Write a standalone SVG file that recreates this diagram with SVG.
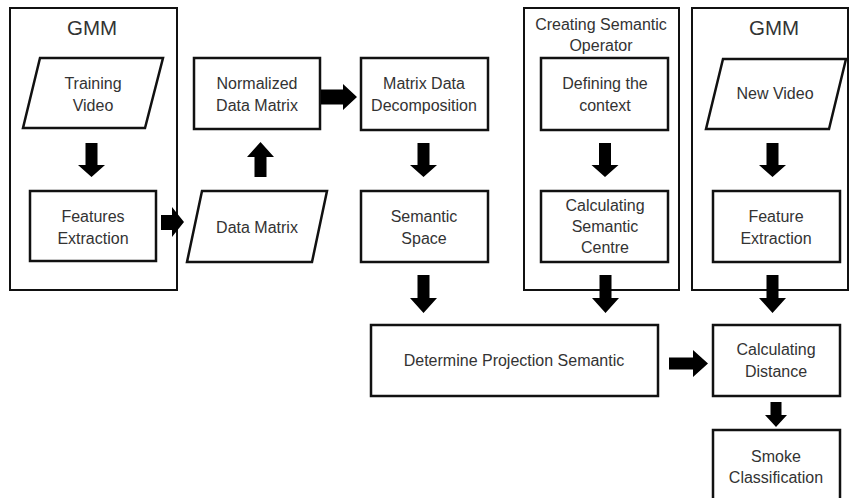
<svg xmlns="http://www.w3.org/2000/svg" width="849" height="498" viewBox="0 0 849 498">
<style>
.box{fill:#fff;stroke:#111;stroke-width:2.5}
.cont{fill:none;stroke:#111;stroke-width:2}
.t{font-family:"Liberation Sans",Arial,sans-serif;font-size:16px;fill:#333;text-anchor:middle}
.h{font-family:"Liberation Sans",Arial,sans-serif;font-size:20.5px;fill:#333;text-anchor:middle}
.arr{fill:#000}
</style>
<defs>
<path id="dn" d="M-6,0 H6 V22 H13.5 L0,34 L-13.5,22 H-6 Z"/>
<path id="dn2" d="M-6,0 H6 V23 H13.5 L0,38 L-13.5,23 H-6 Z"/>
</defs>
<rect width="849" height="498" fill="#fff"/>
<g id="gmm-left">
<rect class="cont" x="10" y="8" width="167" height="282"/>
<text class="h" x="92" y="35">GMM</text>
</g>
<g id="creating-semantic-operator">
<rect class="cont" x="524" y="8" width="155" height="282"/>
<text class="t" x="601" y="30">Creating Semantic</text>
<text class="t" x="601" y="51">Operator</text>
</g>
<g id="gmm-right">
<rect class="cont" x="692" y="8" width="156" height="282"/>
<text class="h" x="774" y="35">GMM</text>
</g>
<g id="training-video">
<polygon class="box" points="40,58 163,58 145,128 23,128"/>
<text class="t" x="93" y="89">Training</text>
<text class="t" x="93" y="111">Video</text>
</g>
<g id="features-extraction">
<rect class="box" x="30" y="191" width="126" height="70"/>
<text class="t" x="93" y="222">Features</text>
<text class="t" x="93" y="244">Extraction</text>
</g>
<g id="data-matrix">
<polygon class="box" points="202,191 327,191 312,262 187,262"/>
<text class="t" x="257" y="233">Data Matrix</text>
</g>
<g id="normalized-data-matrix">
<rect class="box" x="194" y="58" width="126" height="71"/>
<text class="t" x="257" y="89">Normalized</text>
<text class="t" x="257" y="111">Data Matrix</text>
</g>
<g id="matrix-data-decomposition">
<rect class="box" x="361" y="58" width="127" height="72"/>
<text class="t" x="424" y="89">Matrix Data</text>
<text class="t" x="424" y="111">Decomposition</text>
</g>
<g id="semantic-space">
<rect class="box" x="361" y="191" width="127" height="71"/>
<text class="t" x="424" y="222">Semantic</text>
<text class="t" x="424" y="244">Space</text>
</g>
<g id="defining-the-context">
<rect class="box" x="541" y="58" width="127" height="72"/>
<text class="t" x="605" y="89">Defining the</text>
<text class="t" x="605" y="111">context</text>
</g>
<g id="calculating-semantic-centre">
<rect class="box" x="541" y="191" width="127" height="71"/>
<text class="t" x="605" y="211">Calculating</text>
<text class="t" x="605" y="232">Semantic</text>
<text class="t" x="605" y="253">Centre</text>
</g>
<g id="new-video">
<polygon class="box" points="723,59 846,59 829,129 706,129"/>
<text class="t" x="775" y="99">New Video</text>
</g>
<g id="feature-extraction">
<rect class="box" x="713" y="191" width="127" height="71"/>
<text class="t" x="776" y="222">Feature</text>
<text class="t" x="776" y="244">Extraction</text>
</g>
<g id="determine-projection-semantic">
<rect class="box" x="371" y="325" width="287" height="71"/>
<text class="t" x="514" y="366">Determine Projection Semantic</text>
</g>
<g id="calculating-distance">
<rect class="box" x="713" y="325" width="127" height="71"/>
<text class="t" x="776" y="355">Calculating</text>
<text class="t" x="776" y="377">Distance</text>
</g>
<g id="smoke-classification">
<rect class="box" x="713" y="430" width="127" height="80"/>
<text class="t" x="776" y="462">Smoke</text>
<text class="t" x="776" y="483">Classification</text>
</g>
<g id="connectors" class="arr">
<use href="#dn" x="91.5" y="143"/>
<use href="#dn" x="423.5" y="143"/>
<use href="#dn" x="605" y="143"/>
<use href="#dn" x="772.5" y="143"/>
<use href="#dn2" x="423.5" y="275"/>
<use href="#dn2" x="605.5" y="275"/>
<use href="#dn2" x="772.5" y="275"/>
<path d="M161,215 H172 V207 L184,222 L172,237 V230 H161 Z"/>
<path d="M254.5,177 V157 H247 L260.5,142 L274,157 H266.5 V177 Z"/>
<path d="M321,89.5 H343 V84 L357,97 L343,110 V104.5 H321 Z"/>
<path d="M669,357.5 H693 V350 L708,363.5 L693,377 V369.5 H669 Z"/>
<path d="M770.5,402 H781.5 V415 H787 L776,427 L765,415 H770.5 Z"/>
</g>
</svg>
